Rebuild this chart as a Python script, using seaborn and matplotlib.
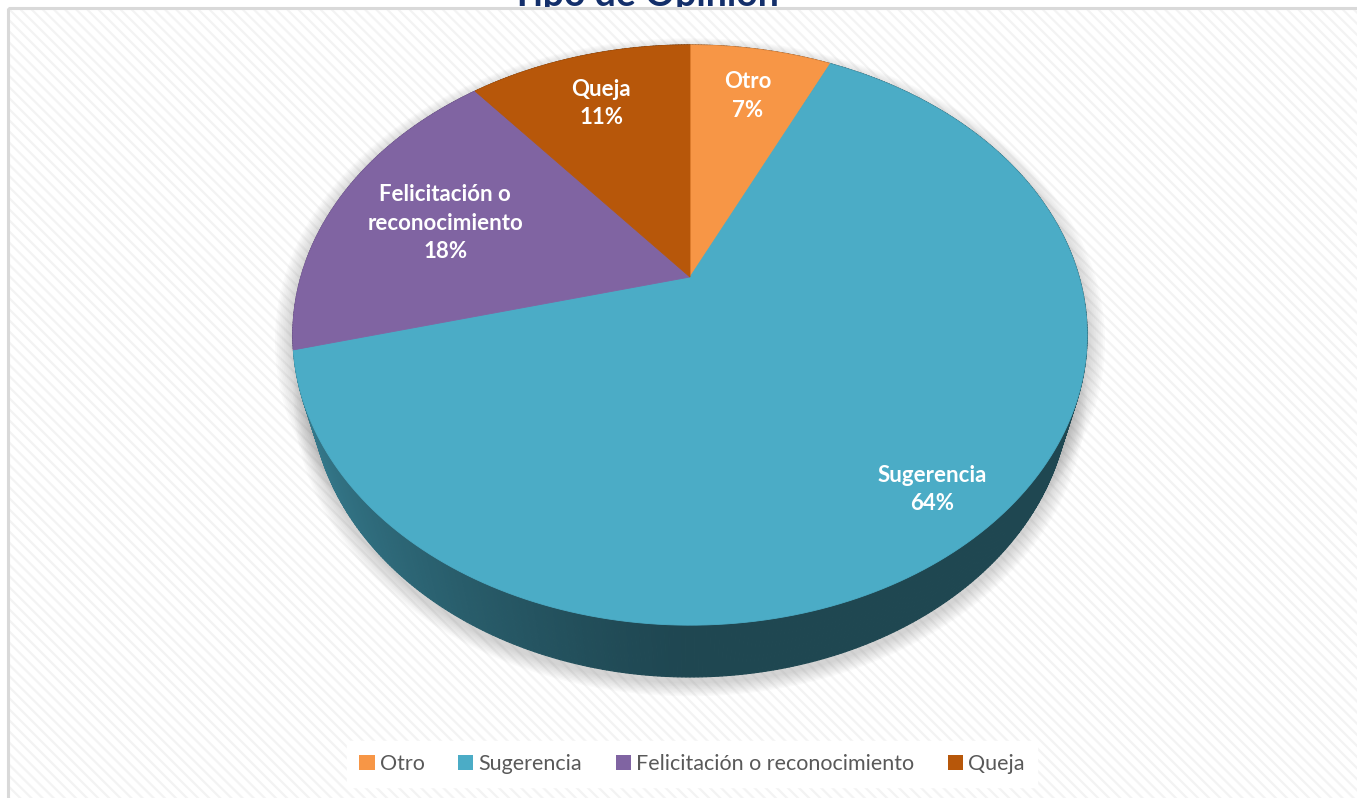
import numpy as np
import matplotlib
matplotlib.use("Agg")
import matplotlib.pyplot as plt
from matplotlib.patches import Rectangle, Patch
from matplotlib.collections import PolyCollection
import seaborn as sns

# ---- data -------------------------------------------------------------
categories = ["Otro", "Sugerencia", "Felicitación o reconocimiento", "Queja"]
label_text = ["Otro", "Sugerencia", "Felicitación o\nreconocimiento", "Queja"]
shares = [7, 64, 18, 11]            # percent of opinions
title = "Tipo de Opinión"

# ---- style ------------------------------------------------------------
sns.set_theme(style="white")
plt.rcParams["font.family"] = ["Lato", "DejaVu Sans"]
plt.rcParams["hatch.linewidth"] = 1.6

palette = sns.color_palette(["#F79646", "#4BACC6", "#8064A2", "#B7570A"])
label_radius = [0.78, 0.85, 0.69, 0.77]

W, H = 1357, 798
fig = plt.figure(figsize=(W / 100, H / 100), dpi=100)
ax = fig.add_axes([0, 0, 1, 1])
ax.set_xlim(0, W)
ax.set_ylim(H, 0)
ax.axis("off")

# chart area: white with a fine diagonal texture and a light grey frame
ax.text(645, 6, title, ha="center", va="baseline", fontsize=27,
        fontweight="bold", color="#132F6B", zorder=-1)
ax.add_patch(Rectangle((8, 8), W + 20, H + 20, facecolor="white",
                       edgecolor="#F3F3F3", hatch="\\\\\\", lw=0, zorder=0))
ax.add_patch(Rectangle((8, 8), W + 20, H + 20, fill=False,
                       edgecolor="#D9D9D9", lw=2.2, zorder=0.5))

# ---- perspective camera for the tilted disc -----------------------------
CX, CY = 690, 277                      # screen position of the pie centre
F, D = 1358.0, 3.49                    # focal length, camera distance
phi = np.deg2rad(45.7)                 # viewing elevation
depth_h = 0.2185                       # disc thickness (radius = 1)


def project(x, y, z):
    """World (x right, y up, z back) -> screen pixels."""
    d = D - y * np.sin(phi) + z * np.cos(phi)
    sx = F * x / d
    sy = F * (y * np.cos(phi) + z * np.sin(phi)) / d
    return CX + sx, CY - sy


def ring(theta, y, r=1.0):
    # theta measured clockwise from the back (12 o'clock)
    return project(r * np.sin(theta), y, r * np.cos(theta))


fracs = np.array(shares, dtype=float) / np.sum(shares)
edges = np.concatenate([[0], np.cumsum(fracs)]) * 2 * np.pi

# ---- soft drop shadow ---------------------------------------------------
t_all = np.linspace(0, 2 * np.pi, 400)
bx, by = ring(t_all, -depth_h)
tx, ty = ring(t_all, 0.0)
for k in range(10, 0, -1):
    grow = 1 + 0.0045 * k
    for px, py in ((bx, by), (tx, ty)):
        mx, my = px.mean(), py.mean()
        ax.fill(mx + (px - mx) * grow, my + (py - my) * grow + 5,
                color="#808080", alpha=0.035, lw=0, zorder=1)

# ---- side wall ----------------------------------------------------------
n_seg = 720
ts = np.linspace(0, 2 * np.pi, n_seg + 1)
ux, uy = ring(ts, 0.0)
lx, ly = ring(ts, -depth_h)
quads, cols = [], []
order = np.argsort(-np.cos(ts[:-1]))   # back segments first
for i in order:
    tm = 0.5 * (ts[i] + ts[i + 1])
    idx = np.searchsorted(edges, tm) - 1
    base = np.array(palette[idx])
    left = np.clip(-np.sin(tm), 0, 1)
    shade = 0.41 + 0.33 * left ** 1.3
    quads.append([(ux[i], uy[i]), (ux[i + 1], uy[i + 1]),
                  (lx[i + 1], ly[i + 1]), (lx[i], ly[i])])
    cols.append(tuple(base * shade))
ax.add_collection(PolyCollection(quads, facecolors=cols, edgecolors=cols,
                                 linewidths=0.8, zorder=2))

# ---- top surface wedges -------------------------------------------------
for i, (a0, a1) in enumerate(zip(edges[:-1], edges[1:])):
    th = np.linspace(a0, a1, 200)
    px, py = ring(th, 0.0)
    cx0, cy0 = project(0, 0, 0)
    ax.fill(np.r_[cx0, px], np.r_[cy0, py], color=palette[i],
            ec=palette[i], lw=0.6, zorder=3)

# ---- data labels --------------------------------------------------------
for i, (a0, a1) in enumerate(zip(edges[:-1], edges[1:])):
    mid = 0.5 * (a0 + a1)
    lx_, ly_ = ring(mid, 0.0, label_radius[i])
    ax.text(lx_, ly_ + 3, f"{label_text[i]}\n{shares[i]}%", ha="center",
            va="center", color="white", fontsize=16, fontweight="bold",
            linespacing=1.42, zorder=4)

# ---- legend -------------------------------------------------------------
handles = [Patch(facecolor=c, edgecolor="none") for c in palette]
leg = fig.legend(handles, categories, loc="center", ncol=4,
                 bbox_to_anchor=(692 / W, 1 - 764 / H), frameon=True,
                 fontsize=15.5, handlelength=0.7, handleheight=0.7,
                 handletextpad=0.25, columnspacing=1.55, borderpad=0.6,
                 labelcolor="#595959")
leg.get_frame().set_facecolor("white")
leg.get_frame().set_edgecolor("white")
leg.get_frame().set_alpha(1)
leg.get_frame().set_boxstyle("square", pad=0)

fig.savefig("out.png", dpi=100)
